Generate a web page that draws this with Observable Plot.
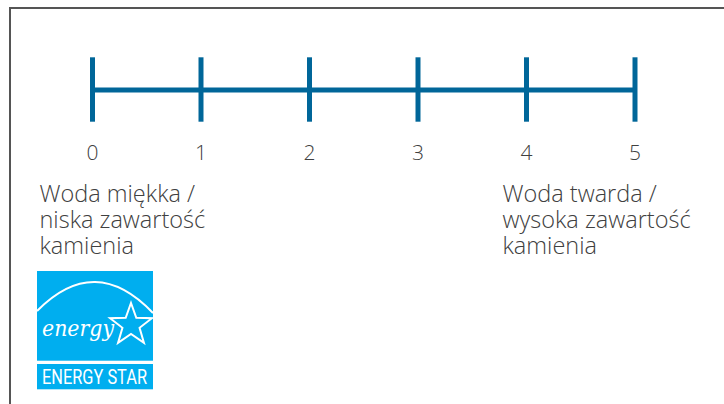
<!DOCTYPE html>
<html>
<head>
<meta charset="utf-8">
<script src="https://cdn.jsdelivr.net/npm/d3@7"></script>
<script src="https://cdn.jsdelivr.net/npm/@observablehq/plot@0.6"></script>
<style>
  html, body { margin: 0; padding: 0; background: #fff; }
  #wrap { position: relative; width: 724px; height: 404px; overflow: hidden; background: #fff; }
  #frame { position: absolute; left: 9px; top: 7px; width: 800px; height: 500px;
           border-top: 2px solid #555; border-left: 2px solid #555; }
  #chart { position: absolute; left: 0; top: 0; }
  #logo { position: absolute; left: 0; top: 0; }
</style>
</head>
<body>
<div id="wrap">
  <div id="frame"></div>
  <div id="chart"></div>
  <svg id="logo" width="724" height="404"></svg>
</div>
<script>
// Scale positions (water hardness levels)
const levels = [0, 1, 2, 3, 4, 5];
const levelLabels = ["0", "1", "2", "3", "4", "5"];
// End descriptions
const softPosition = [0];
const softLabel = ["Woda miękka /\nniska zawartość\nkamienia"];
const hardPosition = [4];
const hardLabel = ["Woda twarda /\nwysoka zawartość\nkamienia"];

const blue = "#006699";
const textColor = "#404040";
const font = "'Open Sans', 'Noto Sans', sans-serif";

const labelOpts = (dx) => ({
  x: d => d, y: -1, dx, dy: 60.9, textAnchor: "start", lineAnchor: "top",
  lineHeight: 1.115, fontSize: 23.5, fontWeight: 300, fill: textColor
});

const chart = Plot.plot({
  width: 724,
  height: 404,
  marginLeft: 92,
  marginRight: 89.5,
  marginTop: 57.3,
  marginBottom: 282.3,
  style: {fontFamily: font, background: "transparent", overflow: "visible"},
  x: {domain: [0, 5], label: null},
  y: {domain: [-1, 1], axis: null},
  marks: [
    Plot.ruleY([0], {x1: levels[0], x2: levels[levels.length - 1], stroke: blue, strokeWidth: 5}),
    Plot.ruleX(levels, {x: d => d, y1: -1, y2: 1, stroke: blue, strokeWidth: 5}),
    Plot.axisX(levels, {tickSize: 0, tickPadding: 23, fontSize: 21, fontWeight: 300, fill: textColor,
      label: null, tickFormat: (d) => levelLabels[levels.indexOf(d)]}),
    Plot.text(softPosition, {...labelOpts(-53), text: (d, i) => softLabel[i]}),
    Plot.text(hardPosition, {...labelOpts(-24), text: (d, i) => hardLabel[i]})
  ]
});
document.getElementById("chart").appendChild(chart);

// Energy Star logo (decorative)
const logo = d3.select("#logo");
const lb = "#00aeef";
const g = logo.append("g");
g.append("rect").attr("x", 37).attr("y", 271).attr("width", 116).attr("height", 89.7).attr("fill", lb);
g.append("rect").attr("x", 37).attr("y", 364).attr("width", 116).attr("height", 25.3).attr("fill", lb);
g.append("path").attr("d", "M37,311 Q95,252 153,313").attr("fill", "none").attr("stroke", "#fff").attr("stroke-width", 2);
// star outline
const cx = 131, cy = 325, R = 22, r = 9;
const pts = d3.range(10).map(i => {
  const a = -Math.PI / 2 + i * Math.PI / 5;
  const rr = i % 2 === 0 ? R : r;
  return [cx + rr * Math.cos(a), cy + rr * Math.sin(a)];
});
g.append("path").attr("d", "M" + pts.map(p => p.join(",")).join("L") + "Z")
  .attr("fill", lb).attr("stroke", "#fff").attr("stroke-width", 2).attr("stroke-linejoin", "miter");
g.append("text").attr("x", 42).attr("y", 336).text("energy")
  .attr("fill", "#fff").attr("font-family", "'DejaVu Serif', serif").attr("font-style", "italic")
  .attr("font-size", 22).attr("textLength", 72).attr("lengthAdjust", "spacingAndGlyphs");
g.append("text").attr("x", 42).attr("y", 384).text("ENERGY STAR")
  .attr("fill", "#fff").attr("font-family", "Roboto, sans-serif")
  .attr("font-size", 19.5).attr("textLength", 105).attr("lengthAdjust", "spacingAndGlyphs");
</script>
</body>
</html>
